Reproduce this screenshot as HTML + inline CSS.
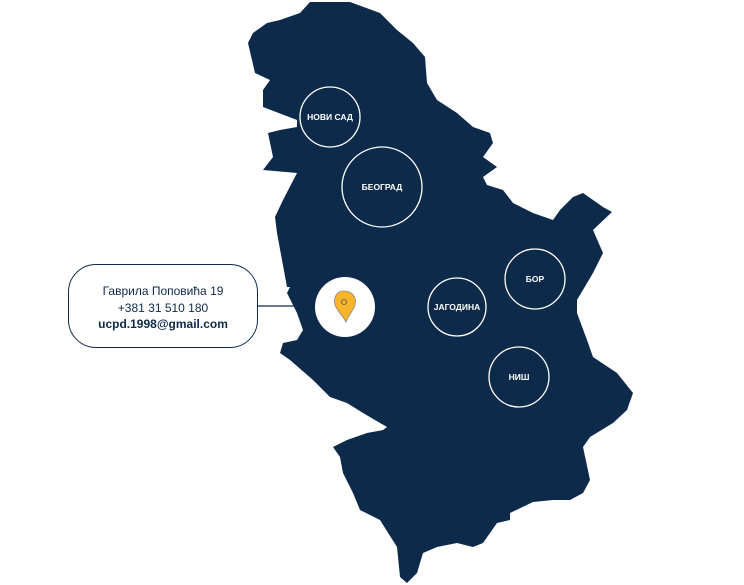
<!DOCTYPE html>
<html><head><meta charset="utf-8"><style>
body{margin:0;background:#fff;width:744px;height:585px;overflow:hidden;position:relative;font-family:"Liberation Sans",sans-serif}
.box{position:absolute;left:68px;top:264px;width:190px;height:84px;border:1.5px solid #0e2a4a;border-radius:28px;background:#fff;text-align:center;color:#0e2a4a;font-size:12px;line-height:16.5px;box-sizing:border-box;padding-top:18px}
</style></head><body>
<svg width="744" height="585" style="position:absolute;left:0;top:0">
<path fill="#0e2a4a" d="M310,2 L350,2 L380,13 L397,30 L413,43 L425,57 L427,83 L437,100 L457,113 L473,127 L490,133 L493,143 L483,157 L497,167 L483,177 L487,185 L503,190 L513,203 L533,213 L553,220 L560,210 L573,197 L583,193 L593,200 L603,207 L612,212 L593,230 L603,253 L593,273 L577,300 L577,313 L587,340 L593,357 L617,373 L633,393 L627,410 L613,423 L590,437 L583,447 L590,480 L583,493 L570,500 L553,500 L533,502 L510,513 L510,520 L497,523 L483,543 L473,547 L457,543 L437,547 L423,553 L417,573 L407,583 L400,577 L397,547 L380,520 L360,510 L353,493 L343,473 L340,457 L333,447 L347,440 L367,433 L383,430 L387,427 L363,413 L347,403 L330,397 L313,380 L290,360 L280,353 L283,343 L297,340 L303,330 L297,313 L287,293 L290,287 L287,287 L277,233 L275,217 L283,200 L297,173 L263,170 L273,157 L268,133 L280,130 L297,127 L297,120 L263,107 L263,90 L270,80 L255,73 L248,43 L253,33 L267,23 L280,20 L300,13 Z"/>
<g fill="none" stroke="#fff" stroke-width="1.3">
<circle cx="330" cy="117" r="30"/><circle cx="382" cy="187" r="40"/><circle cx="535" cy="279" r="30"/><circle cx="457" cy="307" r="29"/><circle cx="519" cy="377" r="30"/>
</g>
<g fill="#fff" font-family="Liberation Sans" font-weight="bold" font-size="8.5" text-anchor="middle">
<text x="330" y="120">НОВИ САД</text><text x="382" y="190">БЕОГРАД</text><text x="535" y="282">БОР</text><text x="457" y="310">ЈАГОДИНА</text><text x="519" y="380">НИШ</text>
</g>
<line x1="258" y1="306" x2="316" y2="306" stroke="#0e2a4a" stroke-width="1.3"/>
<circle cx="345" cy="307" r="30" fill="#fff"/>
<path d="M344,291 C352,291 357,297 355,305 C353,311 348,316 346,322 C343,316 337,311 335,305 C333,297 337,291 344,291 Z" fill="#f8b42b" stroke="#888" stroke-width="0.8"/>
<circle cx="344" cy="302" r="2.5" fill="none" stroke="#555" stroke-width="0.8"/>
</svg>
<div class="box">Гаврила Поповића 19<br>+381 31 510 180<br><b>ucpd.1998@gmail.com</b></div>
</body></html>
